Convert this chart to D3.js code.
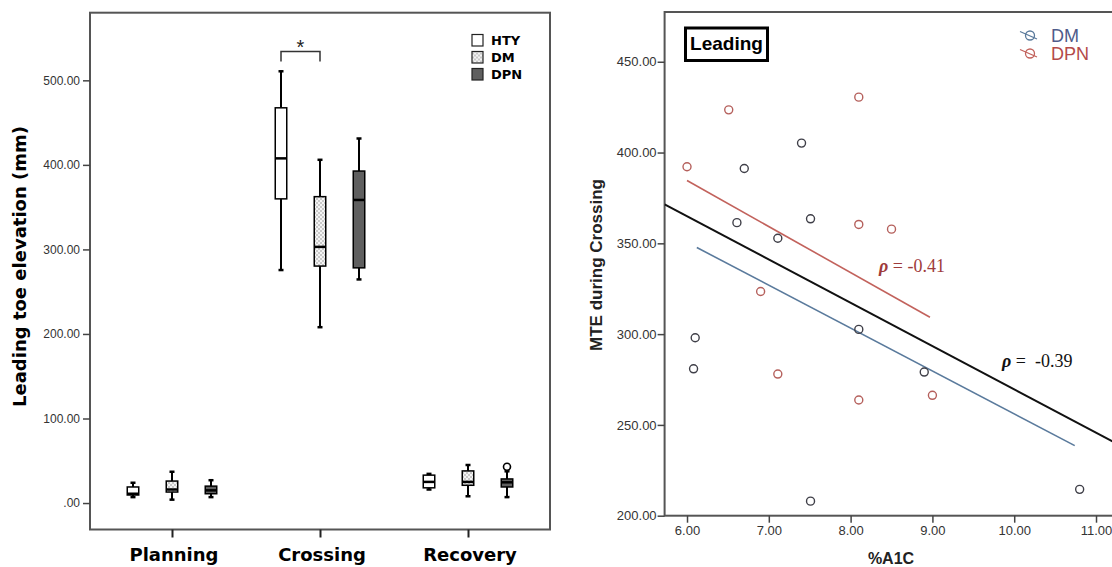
<!DOCTYPE html>
<html>
<head>
<meta charset="utf-8">
<script src="https://cdn.jsdelivr.net/npm/d3@7"></script>
<style>
  body { margin: 0; background: #fff; }
  svg { display: block; }
</style>
</head>
<body>
<svg id="fig" width="1112" height="567"></svg>
<script>
// ---------- Box plot: leading toe elevation by gait phase ----------
const phases = ["Planning", "Crossing", "Recovery"];
const groups = ["HTY", "DM", "DPN"];
// five-number summaries per phase: [min, q1, median, q3, max]
const htyStats = [[7, 9.5, 11, 19, 24], [275.6, 359.8, 407.7, 467.5, 510.7], [16, 18, 25, 33, 34.5]];
const dmStats  = [[4, 13, 16, 26, 37], [208, 280.3, 303, 362.4, 406], [8, 21, 25, 38, 45]];
const dpnStats = [[7, 11, 15, 20, 27], [264.5, 278.2, 358.5, 392.7, 431.2], [7, 19, 24.5, 28.5, 37.5]];
const dpnOutlierPhases = ["Recovery"];
const dpnOutlierValues = [43];
const boxTicks = [0, 100, 200, 300, 400, 500];
const boxTickLabels = [".00", "100.00", "200.00", "300.00", "400.00", "500.00"];

// ---------- Scatter: MTE during crossing vs %A1C ----------
const dmA1c = [7.40, 6.70, 6.61, 7.51, 7.11, 8.10, 6.10, 6.08, 8.90, 7.51, 10.80];
const dmMte = [405.2, 391.2, 361.4, 363.5, 352.8, 302.6, 298.0, 280.9, 279.1, 208.0, 214.5];
const dpnA1c = [6.00, 6.51, 8.10, 8.10, 8.50, 6.90, 7.11, 8.10, 9.00];
const dpnMte = [392.2, 423.5, 430.5, 360.4, 357.8, 323.5, 278.0, 263.7, 266.3];
// fitted lines, as end points [x0, x1] / [y0, y1]
const dmFitX = [6.12, 10.74], dmFitY = [347.7, 238.6];
const dpnFitX = [6.00, 8.97], dpnFitY = [384.6, 309.3];
const allFitX = [5.726, 11.3], allFitY = [371.5, 238.6];
const dpnRho = -0.41, allRho = -0.39;
const scatterYTicks = [200, 250, 300, 350, 400, 450];
const scatterXTicks = [6, 7, 8, 9, 10, 11];

const svg = d3.select("#fig");
const fmt2 = d3.format(".2f");

// ================= LEFT PANEL =================
const L = { left: 90, right: 550, top: 12.7, bottom: 529.5 };
const xPhase = d3.scalePoint().domain(phases).range([L.left, L.right]).padding(0.554);
const xGroup = d3.scalePoint().domain(groups).range([-39, 39]);
const yBox = d3.scaleLinear().domain([-31.3, 580]).range([L.bottom, L.top]);

const defs = svg.append("defs");
const pat = defs.append("pattern").attr("id", "dots").attr("patternUnits", "userSpaceOnUse")
  .attr("width", 4).attr("height", 4);
pat.append("rect").attr("width", 4).attr("height", 4).attr("fill", "#c9c9c9");
pat.append("rect").attr("x", 0).attr("y", 0).attr("width", 2).attr("height", 2).attr("fill", "#f4f4f4");
pat.append("rect").attr("x", 2).attr("y", 2).attr("width", 2).attr("height", 2).attr("fill", "#f4f4f4");

const groupFill = { HTY: "#ffffff", DM: "url(#dots)", DPN: "#5f5f5f" };
const statsByGroup = { HTY: htyStats, DM: dmStats, DPN: dpnStats };

const left = svg.append("g");

// frame
left.append("rect").attr("x", L.left).attr("y", L.top)
  .attr("width", L.right - L.left).attr("height", L.bottom - L.top)
  .attr("fill", "none").attr("stroke", "#555").attr("stroke-width", 2);

// y axis
const yAxisL = d3.axisLeft(yBox).tickValues(boxTicks).tickSize(7).tickPadding(3)
  .tickFormat((d, i) => boxTickLabels[i]);
left.append("g").attr("transform", `translate(${L.left},0)`).call(yAxisL)
  .call(g => g.select(".domain").remove())
  .call(g => g.selectAll("line").attr("stroke", "#444").attr("stroke-width", 1.5))
  .call(g => g.selectAll("text").attr("fill", "#333").style("font", "12px 'Liberation Sans', Arial, sans-serif"));

// x axis (phases)
const xAxisL = d3.axisBottom(xPhase).tickSize(8).tickPadding(0).tickFormat("");
left.append("g").attr("transform", `translate(0,${L.bottom})`).call(xAxisL)
  .call(g => g.select(".domain").remove())
  .call(g => g.selectAll("line").attr("stroke", "#222").attr("stroke-width", 2));
left.selectAll("text.phase").data(phases).join("text").attr("class", "phase")
  .attr("x", d => xPhase(d) + 2).attr("y", 560.5).attr("text-anchor", "middle")
  .style("font", "bold 18px 'DejaVu Sans', Verdana, sans-serif").attr("fill", "#000")
  .text(d => d);

// y title
left.append("text").attr("transform", `translate(26,266.5) rotate(-90)`)
  .attr("text-anchor", "middle")
  .style("font", "bold 18px 'DejaVu Sans', Verdana, sans-serif").attr("fill", "#000")
  .text("Leading toe elevation (mm)");

// boxes
const boxW = 11.5, capW = 5;
const boxRows = [];
groups.forEach(g => phases.forEach((p, i) => {
  const s = statsByGroup[g][i];
  boxRows.push({ g, p, min: s[0], q1: s[1], med: s[2], q3: s[3], max: s[4] });
}));
const bx = left.selectAll("g.box").data(boxRows).join("g").attr("class", "box")
  .attr("transform", d => `translate(${xPhase(d.p) + xGroup(d.g)},0)`);
bx.append("line").attr("x1", 0).attr("x2", 0).attr("y1", d => yBox(d.max)).attr("y2", d => yBox(d.q3))
  .attr("stroke", "#000").attr("stroke-width", 2);
bx.append("line").attr("x1", 0).attr("x2", 0).attr("y1", d => yBox(d.q1)).attr("y2", d => yBox(d.min))
  .attr("stroke", "#000").attr("stroke-width", 2);
bx.append("line").attr("x1", -capW / 2).attr("x2", capW / 2).attr("y1", d => yBox(d.max)).attr("y2", d => yBox(d.max))
  .attr("stroke", "#000").attr("stroke-width", 2.5);
bx.append("line").attr("x1", -capW / 2).attr("x2", capW / 2).attr("y1", d => yBox(d.min)).attr("y2", d => yBox(d.min))
  .attr("stroke", "#000").attr("stroke-width", 2.5);
bx.append("rect").attr("x", -boxW / 2).attr("width", boxW)
  .attr("y", d => yBox(d.q3)).attr("height", d => yBox(d.q1) - yBox(d.q3))
  .attr("fill", d => groupFill[d.g]).attr("stroke", "#000").attr("stroke-width", 1.5);
bx.append("line").attr("x1", -boxW / 2).attr("x2", boxW / 2).attr("y1", d => yBox(d.med)).attr("y2", d => yBox(d.med))
  .attr("stroke", "#000").attr("stroke-width", 2.5);

// outliers
left.selectAll("circle.out").data(dpnOutlierValues).join("circle").attr("class", "out")
  .attr("cx", (d, i) => xPhase(dpnOutlierPhases[i]) + xGroup("DPN"))
  .attr("cy", d => yBox(d)).attr("r", 3.5)
  .attr("fill", "#fff").attr("stroke", "#000").attr("stroke-width", 1.6);

// significance bracket HTY vs DM (Crossing)
const bxL = xPhase("Crossing") + xGroup("HTY"), bxR = xPhase("Crossing") + xGroup("DM");
left.append("path").attr("d", `M${bxL},61.5 V51.5 H${bxR} V61.5`)
  .attr("fill", "none").attr("stroke", "#333").attr("stroke-width", 1.5);
left.append("text").attr("x", (bxL + bxR) / 2).attr("y", 54).attr("text-anchor", "middle")
  .style("font", "20px 'Liberation Sans', Arial, sans-serif").attr("fill", "#222").text("*");

// legend
const lg = left.append("g").attr("transform", "translate(472,34.5)");
groups.forEach((g, i) => {
  lg.append("rect").attr("x", 0).attr("y", i * 17).attr("width", 11).attr("height", 11.5)
    .attr("fill", groupFill[g]).attr("stroke", "#222").attr("stroke-width", 1.2);
  lg.append("text").attr("x", 19).attr("y", i * 17 + 10)
    .style("font", "bold 13px 'DejaVu Sans', Verdana, sans-serif").attr("fill", "#000").text(g);
});

// ================= RIGHT PANEL =================
const R = { left: 664.6, top: 12, bottom: 515.7 };
const xA1c = d3.scaleLinear().domain([5.726, 11.3]).range([R.left, R.left + 5.574 * 81.8]);
const yMte = d3.scaleLinear().domain([200, 477.4]).range([R.bottom, R.top]);
const R_right = xA1c(11.3);

const right = svg.append("g");
defs.append("clipPath").attr("id", "plotclip").append("rect")
  .attr("x", R.left).attr("y", R.top).attr("width", R_right - R.left).attr("height", R.bottom - R.top);

right.append("rect").attr("x", R.left).attr("y", R.top)
  .attr("width", R_right - R.left).attr("height", R.bottom - R.top)
  .attr("fill", "none").attr("stroke", "#555").attr("stroke-width", 2);

right.append("g").attr("transform", `translate(${R.left},0)`)
  .call(d3.axisLeft(yMte).tickValues(scatterYTicks).tickSize(7).tickPadding(1).tickFormat(fmt2))
  .call(g => g.select(".domain").remove())
  .call(g => g.selectAll("line").attr("stroke", "#444").attr("stroke-width", 1.5))
  .call(g => g.selectAll("text").attr("fill", "#333").style("font", "13px 'Liberation Sans', Arial, sans-serif"));

right.append("g").attr("transform", `translate(0,${R.bottom})`)
  .call(d3.axisBottom(xA1c).tickValues(scatterXTicks).tickSize(7).tickPadding(3).tickFormat(fmt2))
  .call(g => g.select(".domain").remove())
  .call(g => g.selectAll("line").attr("stroke", "#444").attr("stroke-width", 1.5))
  .call(g => g.selectAll("text").attr("fill", "#333").style("font", "13px 'Liberation Sans', Arial, sans-serif"));

right.append("text").attr("x", 891).attr("y", 563.5).attr("text-anchor", "middle")
  .style("font", "bold 16px 'Liberation Sans', Arial, sans-serif").attr("fill", "#222").text("%A1C");
right.append("text").attr("transform", "translate(602,265) rotate(-90)").attr("text-anchor", "middle")
  .style("font", "bold 17px 'Liberation Sans', Arial, sans-serif").attr("fill", "#222").text("MTE during Crossing");

const plot = right.append("g").attr("clip-path", "url(#plotclip)");
const lineGen = d3.line().x(d => xA1c(d[0])).y(d => yMte(d[1]));
const DM_PT = "#3f3f48", DPN_PT = "#b5605c", DM_LINE = "#5a7a9c", DPN_LINE = "#c2625c";

plot.append("path").datum(d3.zip(dpnFitX, dpnFitY)).attr("d", lineGen)
  .attr("fill", "none").attr("stroke", DPN_LINE).attr("stroke-width", 1.6);
plot.append("path").datum(d3.zip(dmFitX, dmFitY)).attr("d", lineGen)
  .attr("fill", "none").attr("stroke", DM_LINE).attr("stroke-width", 1.6);
plot.append("path").datum(d3.zip(allFitX, allFitY)).attr("d", lineGen)
  .attr("fill", "none").attr("stroke", "#111").attr("stroke-width", 2);

plot.selectAll("circle.dm").data(d3.zip(dmA1c, dmMte)).join("circle").attr("class", "dm")
  .attr("cx", d => xA1c(d[0])).attr("cy", d => yMte(d[1])).attr("r", 4)
  .attr("fill", "none").attr("stroke", DM_PT).attr("stroke-width", 1.4);
plot.selectAll("circle.dpn").data(d3.zip(dpnA1c, dpnMte)).join("circle").attr("class", "dpn")
  .attr("cx", d => xA1c(d[0])).attr("cy", d => yMte(d[1])).attr("r", 4)
  .attr("fill", "none").attr("stroke", DPN_PT).attr("stroke-width", 1.4);

// correlation labels (plain hyphen-minus, as typeset)
const rho1 = right.append("text").attr("x", 879).attr("y", 271.5)
  .style("font", "18px 'Liberation Serif', 'Times New Roman', serif").attr("fill", "#9e3b3b");
rho1.append("tspan").style("font-style", "italic").style("font-weight", "bold").text("ρ");
rho1.append("tspan").text(" = " + dpnRho.toFixed(2));
const rho2 = right.append("text").attr("x", 1002).attr("y", 366.5).attr("xml:space", "preserve")
  .style("font", "18px 'Liberation Serif', 'Times New Roman', serif").attr("fill", "#111");
rho2.append("tspan").style("font-style", "italic").style("font-weight", "bold").text("ρ");
rho2.append("tspan").text(" =  " + allRho.toFixed(2));

// "Leading" tag
right.append("rect").attr("x", 685.5).attr("y", 28).attr("width", 82).attr("height", 32.5)
  .attr("fill", "#fff").attr("stroke", "#000").attr("stroke-width", 3);
right.append("text").attr("x", 726.5).attr("y", 49.5).attr("text-anchor", "middle")
  .style("font", "bold 19px 'Liberation Sans', Arial, sans-serif").attr("fill", "#000").text("Leading");

// legend
const rl = right.append("g");
[["DM", DM_LINE, "#4f5b8a", 35.5, 41.5], ["DPN", DPN_LINE, "#b34a4a", 53.5, 59.5]].forEach(([name, c, tc, cy, by]) => {
  rl.append("line").attr("x1", 1020).attr("y1", cy - 4).attr("x2", 1037).attr("y2", cy + 3.5)
    .attr("stroke", c).attr("stroke-width", 1.3);
  rl.append("circle").attr("cx", 1030).attr("cy", cy).attr("r", 4.5)
    .attr("fill", "none").attr("stroke", c).attr("stroke-width", 1.3);
  rl.append("text").attr("x", 1051).attr("y", by)
    .style("font", "18px 'Liberation Sans', Arial, sans-serif").attr("fill", tc).text(name);
});
</script>
</body>
</html>
